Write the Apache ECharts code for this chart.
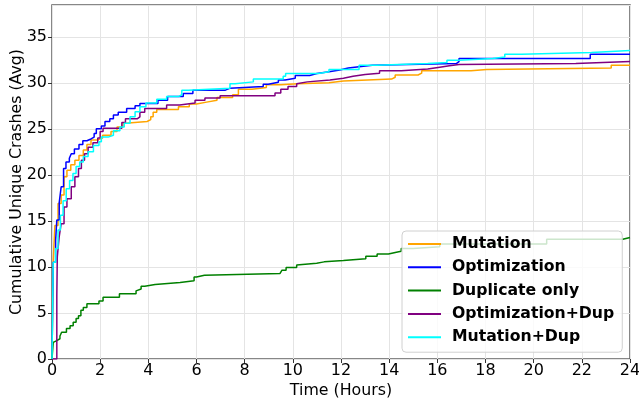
<!DOCTYPE html>
<html>
<head>
<meta charset="utf-8">
<script src="https://cdn.jsdelivr.net/npm/echarts@6/dist/echarts.min.js"></script>
<style>
  html, body { margin: 0; padding: 0; background: #fff; }
  #main { width: 639px; height: 402px; }
</style>
</head>
<body>
<div id="main"></div>
<script>
// step points: [hour, cumulative unique crashes from that hour on]
var mutation = [[0,0],[0.05,10.7],[0.12,14.5],[0.25,16.9],[0.38,17.8],[0.5,19.8],[0.62,20.5],[0.78,21.1],[0.95,21.6],[1.12,22.1],[1.3,22.7],[1.45,23.3],[1.62,23.8],[1.9,24.0],[2.1,24.3],[2.45,24.7],[2.7,25.2],[2.95,25.6],[3.05,25.8],[3.95,26.0],[4.1,26.3],[4.2,26.8],[4.35,27.1],[5.25,27.4],[5.7,27.7],[6.0,27.9],[6.42,28.1],[6.85,28.4],[7.5,28.7],[7.74,29.3],[8.3,29.5],[8.9,29.8],[9.5,29.9],[10.2,30.0],[11.5,30.2],[12.1,30.4],[14.1,30.6],[14.25,30.85],[15.2,31.05],[15.35,31.3],[17.4,31.45],[18.05,31.6],[23.22,31.9],[24,31.9]];

var optimization = [[0,0],[0.05,10.5],[0.15,12.9],[0.2,15.1],[0.3,17.0],[0.38,18.7],[0.48,20.7],[0.58,21.4],[0.72,21.8],[0.8,22.3],[0.93,22.8],[1.12,23.3],[1.28,23.7],[1.45,23.9],[1.62,24.1],[1.75,24.5],[1.84,25.0],[2.05,25.3],[2.2,25.8],[2.4,26.1],[2.55,26.5],[2.75,26.8],[3.1,27.2],[3.45,27.5],[3.65,27.75],[4.4,28.1],[4.8,28.5],[5.45,28.85],[5.85,29.2],[7.2,29.4],[7.38,29.6],[8.77,29.85],[8.98,30.05],[9.4,30.3],[9.68,30.5],[10.1,30.8],[10.7,31.0],[11.0,31.2],[11.5,31.4],[11.95,31.6],[12.3,31.75],[12.75,31.9],[13.3,32.1],[16.8,32.3],[16.9,32.65],[22.35,33.1],[24,33.1]];

var duplicateOnly = [[0,0],[0.05,1.8],[0.1,2.0],[0.2,2.2],[0.33,2.5],[0.4,2.9],[0.6,3.3],[0.75,3.6],[0.88,4.0],[1.0,4.4],[1.1,4.7],[1.2,5.3],[1.3,5.6],[1.45,6.0],[1.95,6.3],[2.12,6.7],[2.8,7.1],[3.49,7.4],[3.55,7.6],[3.7,7.9],[3.85,8.1],[4.28,8.3],[5.32,8.5],[5.9,8.9],[6.0,9.1],[6.33,9.3],[9.47,9.45],[9.55,9.65],[9.72,9.95],[10.16,10.2],[10.23,10.4],[10.99,10.55],[11.3,10.7],[12.1,10.9],[13.03,11.16],[13.5,11.4],[13.97,11.6],[14.3,11.7],[14.5,12.0],[15.0,12.2],[16.1,12.5],[20.54,13.0],[23.7,13.2],[24,13.2]];

var optimizationDup = [[0,0],[0.2,6.9],[0.22,11.1],[0.3,13.3],[0.38,14.7],[0.5,16.5],[0.62,17.4],[0.8,18.7],[0.95,19.8],[1.1,20.7],[1.22,21.6],[1.35,22.3],[1.5,23.0],[1.7,23.5],[1.9,24.0],[2.0,24.7],[2.12,25.05],[2.9,25.7],[3.05,26.1],[3.55,26.3],[3.65,26.8],[3.85,27.2],[4.76,27.6],[5.3,27.8],[5.94,28.1],[6.35,28.35],[6.98,28.6],[9.26,28.9],[9.5,29.3],[9.8,29.6],[10.16,29.9],[10.23,30.1],[10.6,30.3],[11.54,30.5],[12.1,30.7],[12.5,30.9],[13.0,31.05],[13.6,31.3],[14.5,31.5],[15.6,31.7],[16.1,31.85],[16.5,32.0],[16.9,32.1],[21.75,32.3],[24,32.3]];

var mutationDup = [[0,0],[0.05,10.5],[0.15,12.0],[0.25,14.0],[0.35,15.6],[0.46,17.2],[0.59,18.5],[0.73,19.4],[0.87,20.15],[1.0,20.9],[1.15,21.4],[1.3,22.0],[1.5,22.5],[1.72,23.2],[1.95,23.6],[2.05,24.1],[2.33,24.3],[2.55,24.8],[2.82,25.2],[3.0,25.6],[3.24,26.3],[3.45,26.85],[3.65,27.4],[3.9,27.8],[4.35,28.2],[4.76,28.5],[5.25,28.7],[5.39,29.2],[5.66,29.4],[7.39,29.9],[7.6,30.1],[8.36,30.4],[9.6,30.7],[9.7,31.0],[11.06,31.2],[11.5,31.45],[12.75,31.9],[13.5,32.1],[15.6,32.2],[16.4,32.45],[16.9,32.65],[18.3,32.8],[18.8,33.1],[19.5,33.3],[22.4,33.5],[24,33.5]];

var seriesNames = ['Mutation', 'Optimization', 'Duplicate only', 'Optimization+Dup', 'Mutation+Dup'];
var seriesColors = ['#FFA500', '#0000FF', '#008000', '#800080', '#00FFFF'];
var seriesData = [mutation, optimization, duplicateOnly, optimizationDup, mutationDup];

var chart = echarts.init(document.getElementById('main'));
var font = 'DejaVu Sans';

var option = {
  animation: false,
  textStyle: { fontFamily: font },
  grid: {
    left: 52, right: 9, top: 5, bottom: 43,
    outerBoundsMode: 'none',
    containLabel: false,
    show: true, borderColor: '#606060', borderWidth: 1.5
  },
  legend: {
    orient: 'vertical',
    left: 402, top: 231,
    padding: [5, 8, 7, 6],
    itemGap: 7.3,
    itemWidth: 33,
    itemHeight: 2,
    icon: 'rect',
    backgroundColor: 'rgba(255,255,255,0.8)',
    borderColor: '#d0d0d0',
    borderWidth: 1,
    borderRadius: 4,
    textStyle: {
      fontFamily: font, fontWeight: 'bold', fontSize: 15.7,
      color: '#000', lineHeight: 16, padding: [0, 0, 0, 6]
    },
    data: seriesNames
  },
  xAxis: {
    type: 'value', min: 0, max: 24, interval: 2,
    name: 'Time (Hours)', nameLocation: 'middle', nameGap: 24,
    nameMoveOverlap: false,
    nameTextStyle: { fontFamily: font, fontSize: 15.8, color: '#000' },
    axisLine: { show: false },
    axisTick: { show: true, length: 4, lineStyle: { color: '#333' } },
    axisLabel: { fontFamily: font, fontSize: 16, color: '#000', margin: 4 },
    splitLine: { show: true, lineStyle: { color: '#e4e4e4', width: 1 } }
  },
  yAxis: {
    type: 'value', min: 0, max: 38.45, interval: 5,
    name: 'Cumulative Unique Crashes (Avg)', nameLocation: 'middle', nameGap: 27,
    nameMoveOverlap: false,
    nameTextStyle: { fontFamily: font, fontSize: 15.8, color: '#000' },
    axisLine: { show: false },
    axisTick: { show: true, length: 4, lineStyle: { color: '#333' } },
    axisLabel: { fontFamily: font, fontSize: 16, color: '#000', margin: 5, showMaxLabel: false },
    splitLine: { show: true, lineStyle: { color: '#e4e4e4', width: 1 } }
  },
  series: seriesNames.map(function (name, i) {
    return {
      name: name,
      type: 'line',
      step: 'end',
      showSymbol: false,
      symbol: 'none',
      color: seriesColors[i],
      lineStyle: { width: 1.5, color: seriesColors[i] },
      data: seriesData[i]
    };
  })
};

option && chart.setOption(option);
</script>
</body>
</html>
